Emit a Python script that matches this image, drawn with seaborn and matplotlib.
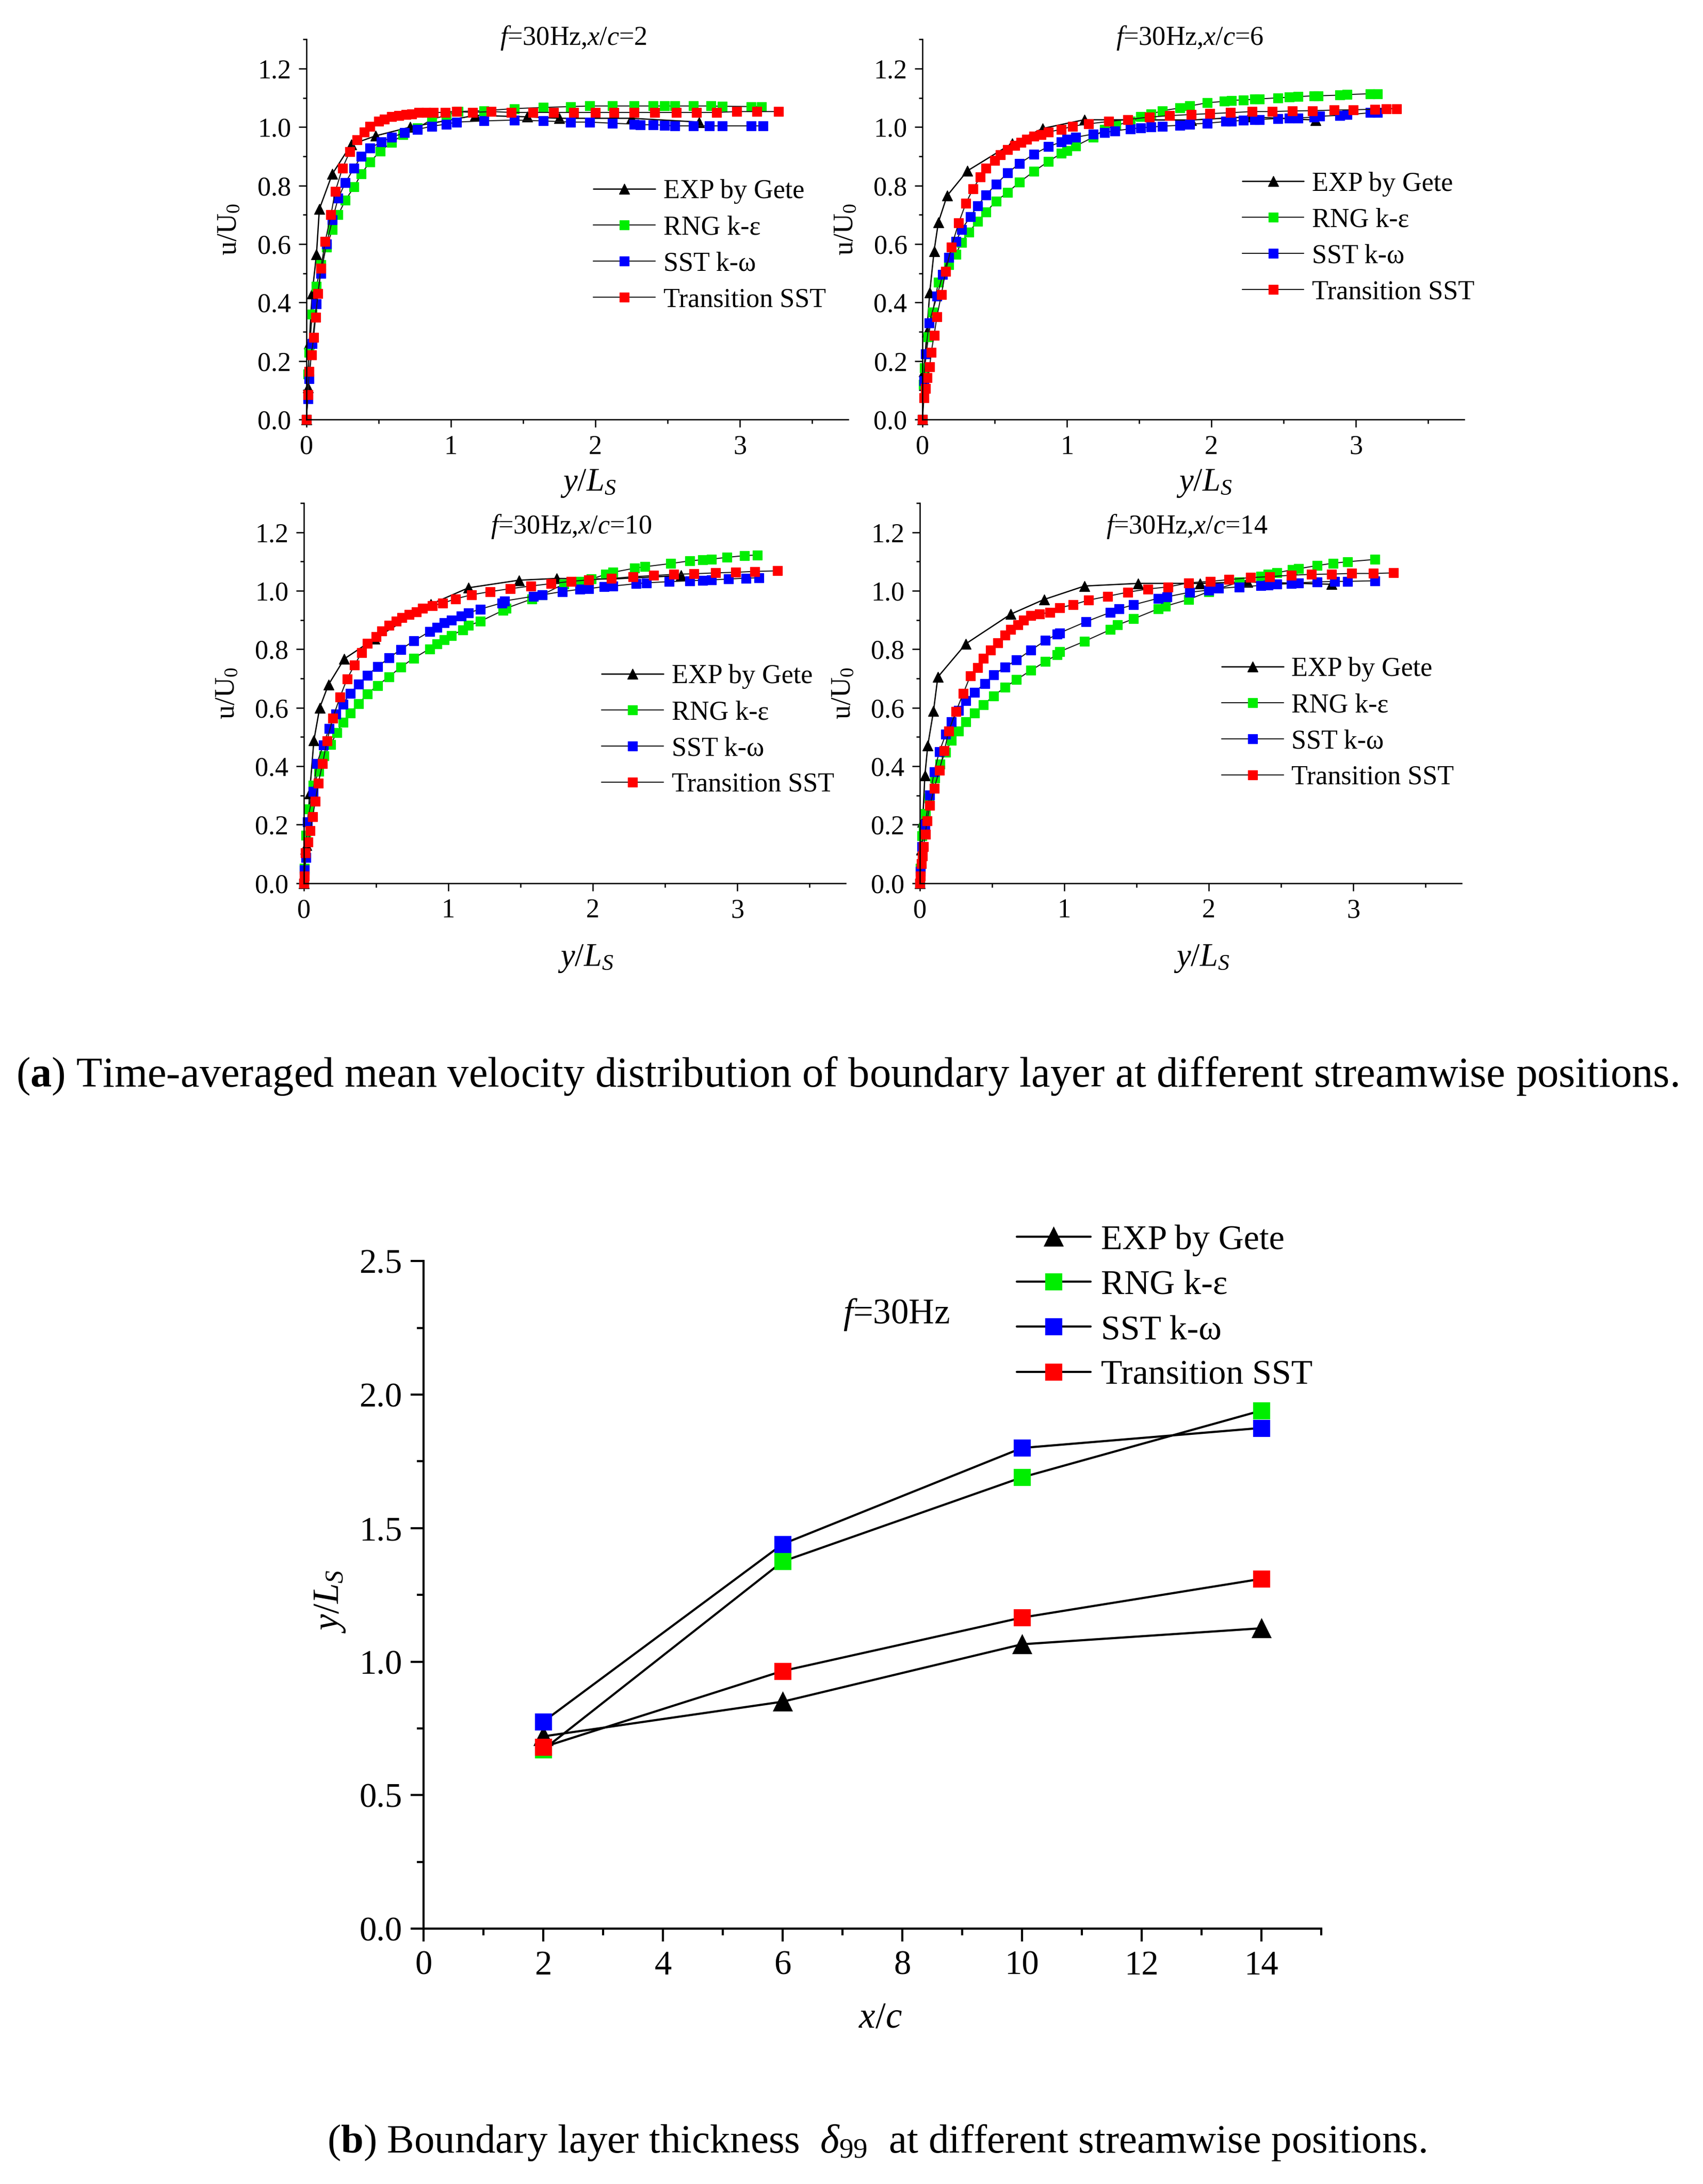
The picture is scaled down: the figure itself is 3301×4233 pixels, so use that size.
import numpy as np
import matplotlib
matplotlib.use('Agg')
import matplotlib.pyplot as plt
import seaborn as sns
from matplotlib.ticker import MultipleLocator, FormatStrFormatter

sns.set_style('ticks', {'axes.edgecolor': 'black', 'xtick.color': 'black', 'ytick.color': 'black',
                        'text.color': 'black', 'axes.labelcolor': 'black'})
plt.rcParams['font.family'] = ['Liberation Serif', 'DejaVu Serif']
plt.rcParams['mathtext.fontset'] = 'custom'
plt.rcParams['mathtext.rm'] = 'Liberation Serif'
plt.rcParams['mathtext.it'] = 'Liberation Serif:italic'
plt.rcParams['mathtext.bf'] = 'Liberation Serif:bold'

labels = ['EXP by Gete', 'RNG k-ε', 'SST k-ω', 'Transition SST']

# x/c = 2
exp2_y = [0, 0.01, 0.02, 0.04, 0.07, 0.09, 0.18, 0.31, 0.48, 0.72, 1.17, 1.53, 1.75, 2.25, 2.72]
exp2_u = [0, 0.11, 0.26, 0.43, 0.565, 0.72, 0.84, 0.94, 0.97, 1.0, 1.04, 1.035, 1.03, 1.03, 1.017]
rng2_y = [0, 0.01, 0.02, 0.04, 0.07, 0.10, 0.14, 0.18, 0.22, 0.27, 0.33, 0.38, 0.44, 0.51, 0.59, 0.67, 0.77, 0.87,
          0.97, 1.05, 1.23, 1.44, 1.64, 1.83, 1.96, 2.12, 2.27, 2.40, 2.48, 2.55, 2.68, 2.80, 2.88, 3.08, 3.15]
rng2_u = [0, 0.155, 0.23, 0.36, 0.455, 0.53, 0.59, 0.65, 0.70, 0.75, 0.795, 0.84, 0.88, 0.917, 0.947, 0.974, 0.997,
          1.027, 1.04, 1.053, 1.056, 1.063, 1.067, 1.07, 1.072, 1.072, 1.072, 1.072, 1.072, 1.072, 1.072, 1.072,
          1.071, 1.07, 1.07]
sst2_y = [0, 0.01, 0.02, 0.04, 0.07, 0.10, 0.14, 0.18, 0.22, 0.27, 0.33, 0.38, 0.44, 0.52, 0.59, 0.68, 0.77, 0.87,
          0.97, 1.04, 1.23, 1.44, 1.64, 1.83, 1.96, 2.12, 2.27, 2.31, 2.40, 2.48, 2.55, 2.68, 2.79, 2.88, 3.08, 3.16]
sst2_u = [0, 0.07, 0.14, 0.26, 0.395, 0.50, 0.60, 0.683, 0.757, 0.81, 0.86, 0.90, 0.928, 0.949, 0.965, 0.981, 0.992,
          1.003, 1.01, 1.017, 1.021, 1.024, 1.021, 1.017, 1.017, 1.013, 1.01, 1.008, 1.008, 1.006, 1.004, 1.004,
          1.004, 1.004, 1.004, 1.004]
tr2_y = [0, 0.01, 0.02, 0.035, 0.05, 0.064, 0.08, 0.10, 0.13, 0.17, 0.20, 0.25, 0.30, 0.35, 0.40, 0.44, 0.50, 0.54,
         0.59, 0.64, 0.69, 0.73, 0.78, 0.83, 0.88, 0.96, 1.04, 1.15, 1.28, 1.42, 1.57, 1.71, 1.85, 2.0, 2.13, 2.27,
         2.41, 2.56, 2.70, 2.84, 2.98, 3.12, 3.27]
tr2_u = [0, 0.085, 0.165, 0.22, 0.28, 0.35, 0.43, 0.517, 0.608, 0.70, 0.78, 0.86, 0.915, 0.957, 0.983, 1.003, 1.019,
         1.027, 1.035, 1.04, 1.043, 1.045, 1.049, 1.05, 1.05, 1.05, 1.053, 1.05, 1.053, 1.05, 1.05, 1.05, 1.05, 1.05,
         1.05, 1.05, 1.05, 1.05, 1.05, 1.05, 1.053, 1.053, 1.053]

# x/c = 6
exp6_y = [0, 0.01, 0.03, 0.05, 0.08, 0.11, 0.17, 0.31, 0.62, 0.83, 1.12, 1.86, 2.26, 2.72]
exp6_u = [0, 0.165, 0.30, 0.434, 0.576, 0.675, 0.765, 0.85, 0.944, 0.995, 1.025, 1.024, 1.035, 1.024]
rng6_y = [0, 0.005, 0.015, 0.04, 0.07, 0.11, 0.18, 0.23, 0.27, 0.32, 0.38, 0.44, 0.51, 0.59, 0.67, 0.77, 0.87, 0.96,
          1.0, 1.06, 1.18, 1.26, 1.34, 1.44, 1.51, 1.58, 1.66, 1.78, 1.85, 1.97, 2.09, 2.14, 2.22, 2.30, 2.33, 2.46,
          2.54, 2.60, 2.71, 2.74, 2.89, 2.94, 3.10, 3.15]
rng6_u = [0, 0.12, 0.176, 0.283, 0.368, 0.47, 0.53, 0.565, 0.605, 0.64, 0.677, 0.71, 0.747, 0.777, 0.811, 0.848,
          0.882, 0.91, 0.92, 0.935, 0.965, 0.992, 1.006, 1.019, 1.035, 1.044, 1.056, 1.065, 1.072, 1.083, 1.088,
          1.091, 1.093, 1.095, 1.096, 1.10, 1.102, 1.104, 1.107, 1.107, 1.109, 1.111, 1.114, 1.114]
sst6_y = [0, 0.01, 0.02, 0.045, 0.10, 0.14, 0.18, 0.23, 0.27, 0.33, 0.38, 0.44, 0.51, 0.59, 0.67, 0.77, 0.87, 0.96,
          1.0, 1.06, 1.18, 1.26, 1.33, 1.44, 1.51, 1.58, 1.66, 1.78, 1.85, 1.97, 2.10, 2.14, 2.22, 2.30, 2.33, 2.46,
          2.54, 2.60, 2.71, 2.75, 2.89, 2.94, 3.10, 3.15]
sst6_u = [0, 0.133, 0.224, 0.33, 0.421, 0.496, 0.555, 0.608, 0.649, 0.693, 0.73, 0.768, 0.805, 0.843, 0.875, 0.907,
          0.933, 0.949, 0.958, 0.965, 0.976, 0.981, 0.987, 0.994, 0.997, 1.0, 1.003, 1.006, 1.01, 1.013, 1.019, 1.02,
          1.023, 1.025, 1.026, 1.029, 1.031, 1.031, 1.034, 1.037, 1.04, 1.042, 1.049, 1.049]
tr6_y = [0, 0.01, 0.02, 0.03, 0.05, 0.06, 0.08, 0.10, 0.13, 0.16, 0.20, 0.25, 0.30, 0.35, 0.40, 0.44, 0.50, 0.54,
         0.59, 0.64, 0.68, 0.72, 0.77, 0.82, 0.87, 0.96, 1.04, 1.15, 1.29, 1.42, 1.57, 1.71, 1.86, 1.99, 2.13, 2.28,
         2.42, 2.56, 2.70, 2.85, 2.98, 3.13, 3.21, 3.28]
tr6_u = [0, 0.075, 0.107, 0.144, 0.181, 0.229, 0.288, 0.352, 0.427, 0.507, 0.59, 0.672, 0.739, 0.789, 0.829, 0.859,
         0.885, 0.905, 0.923, 0.937, 0.948, 0.959, 0.968, 0.974, 0.983, 0.992, 1.003, 1.011, 1.019, 1.026, 1.034,
         1.039, 1.043, 1.046, 1.049, 1.053, 1.053, 1.055, 1.056, 1.058, 1.059, 1.061, 1.063, 1.063]

# x/c = 10
exp10_y = [0, 0.02, 0.04, 0.07, 0.11, 0.17, 0.28, 0.49, 0.88, 1.14, 1.49, 1.75, 2.13, 2.61]
exp10_u = [0, 0.13, 0.307, 0.489, 0.60, 0.678, 0.767, 0.836, 0.954, 1.01, 1.036, 1.042, 1.04, 1.052]
rng10_y = [0, 0.005, 0.013, 0.035, 0.065, 0.105, 0.14, 0.185, 0.23, 0.27, 0.32, 0.38, 0.44, 0.51, 0.59, 0.67, 0.76,
           0.87, 0.92, 0.97, 1.02, 1.10, 1.14, 1.22, 1.38, 1.40, 1.58, 1.65, 1.80, 1.91, 1.99, 2.09, 2.14, 2.29, 2.36,
           2.54, 2.67, 2.76, 2.82, 2.93, 3.05, 3.14]
rng10_u = [0, 0.05, 0.163, 0.253, 0.334, 0.382, 0.435, 0.475, 0.515, 0.55, 0.582, 0.614, 0.647, 0.676, 0.706, 0.738,
           0.769, 0.801, 0.818, 0.833, 0.847, 0.866, 0.881, 0.895, 0.933, 0.94, 0.972, 0.986, 1.023, 1.031, 1.04,
           1.056, 1.063, 1.077, 1.082, 1.093, 1.102, 1.106, 1.108, 1.114, 1.12, 1.122]
sst10_y = [0, 0.005, 0.013, 0.025, 0.065, 0.09, 0.135, 0.175, 0.22, 0.27, 0.32, 0.38, 0.44, 0.51, 0.59, 0.67, 0.76,
           0.87, 0.92, 0.97, 1.02, 1.09, 1.14, 1.22, 1.37, 1.39, 1.59, 1.65, 1.79, 1.91, 1.97, 2.08, 2.14, 2.30, 2.37,
           2.53, 2.67, 2.76, 2.82, 2.94, 3.06, 3.15]
sst10_u = [0, 0.045, 0.088, 0.21, 0.314, 0.409, 0.473, 0.529, 0.578, 0.612, 0.649, 0.681, 0.711, 0.74, 0.77, 0.799,
           0.828, 0.86, 0.875, 0.89, 0.90, 0.913, 0.924, 0.937, 0.958, 0.965, 0.981, 0.986, 0.997, 1.005, 1.007,
           1.014, 1.016, 1.024, 1.027, 1.031, 1.034, 1.036, 1.037, 1.04, 1.043, 1.044]
tr10_y = [0, 0.005, 0.012, 0.03, 0.045, 0.06, 0.08, 0.10, 0.13, 0.16, 0.20, 0.25, 0.30, 0.35, 0.40, 0.44, 0.50, 0.54,
          0.59, 0.64, 0.68, 0.73, 0.78, 0.82, 0.89, 0.96, 1.05, 1.16, 1.29, 1.43, 1.57, 1.71, 1.85, 1.97, 2.13, 2.28,
          2.42, 2.56, 2.70, 2.85, 2.99, 3.12, 3.28]
tr10_u = [0, 0.024, 0.104, 0.141, 0.179, 0.227, 0.28, 0.342, 0.409, 0.486, 0.564, 0.636, 0.699, 0.745, 0.788, 0.82,
          0.842, 0.863, 0.881, 0.895, 0.908, 0.919, 0.927, 0.94, 0.949, 0.957, 0.972, 0.986, 0.997, 1.007, 1.016,
          1.024, 1.032, 1.037, 1.042, 1.048, 1.052, 1.056, 1.058, 1.061, 1.063, 1.066, 1.068]

# x/c = 14
exp14_y = [0, 0.01, 0.02, 0.035, 0.055, 0.095, 0.125, 0.32, 0.63, 0.86, 1.14, 1.51, 1.94, 2.27, 2.85]
exp14_u = [0, 0.114, 0.21, 0.368, 0.47, 0.589, 0.705, 0.819, 0.92, 0.97, 1.016, 1.025, 1.025, 1.03, 1.022]
rng14_y = [0, 0.003, 0.013, 0.025, 0.04, 0.065, 0.105, 0.14, 0.18, 0.22, 0.27, 0.32, 0.38, 0.44, 0.51, 0.59, 0.67,
           0.77, 0.87, 0.95, 0.97, 1.14, 1.32, 1.37, 1.48, 1.65, 1.70, 1.86, 2.0, 2.21, 2.36, 2.41, 2.47, 2.58, 2.62,
           2.75, 2.86, 2.96, 3.15]
rng14_u = [0, 0.05, 0.162, 0.189, 0.237, 0.29, 0.36, 0.408, 0.448, 0.488, 0.52, 0.552, 0.581, 0.61, 0.64, 0.67,
           0.696, 0.728, 0.758, 0.781, 0.792, 0.827, 0.867, 0.883, 0.904, 0.938, 0.947, 0.97, 0.997, 1.029, 1.05,
           1.057, 1.061, 1.072, 1.075, 1.086, 1.094, 1.099, 1.107]
sst14_y = [0, 0.003, 0.013, 0.035, 0.07, 0.10, 0.135, 0.18, 0.22, 0.27, 0.32, 0.38, 0.45, 0.51, 0.59, 0.67, 0.77,
           0.87, 0.95, 0.97, 1.15, 1.32, 1.38, 1.48, 1.65, 1.71, 1.87, 2.0, 2.07, 2.21, 2.36, 2.41, 2.47, 2.57, 2.62,
           2.75, 2.87, 2.96, 3.15]
sst14_u = [0, 0.04, 0.125, 0.2, 0.301, 0.381, 0.45, 0.509, 0.552, 0.591, 0.624, 0.653, 0.683, 0.712, 0.739, 0.763,
           0.797, 0.83, 0.851, 0.856, 0.894, 0.926, 0.938, 0.952, 0.974, 0.979, 0.995, 1.002, 1.008, 1.013, 1.018,
           1.019, 1.022, 1.024, 1.027, 1.03, 1.032, 1.032, 1.034]
tr14_y = [0, 0.003, 0.01, 0.02, 0.026, 0.038, 0.05, 0.07, 0.10, 0.135, 0.17, 0.20, 0.25, 0.30, 0.35, 0.40, 0.44,
          0.49, 0.54, 0.59, 0.63, 0.68, 0.72, 0.77, 0.83, 0.90, 0.97, 1.06, 1.17, 1.30, 1.44, 1.58, 1.72, 1.86, 2.01,
          2.14, 2.29, 2.42, 2.57, 2.71, 2.85, 2.99, 3.14, 3.28]
tr14_u = [0, 0.024, 0.066, 0.093, 0.125, 0.168, 0.214, 0.266, 0.325, 0.386, 0.453, 0.52, 0.587, 0.648, 0.709, 0.737,
          0.769, 0.797, 0.822, 0.848, 0.867, 0.883, 0.899, 0.915, 0.92, 0.926, 0.942, 0.952, 0.968, 0.981, 0.995,
          1.006, 1.013, 1.027, 1.032, 1.038, 1.045, 1.048, 1.053, 1.056, 1.057, 1.059, 1.059, 1.061]

# boundary layer thickness delta99 (panel b)
xc = [2, 6, 10, 14]
d_exp = [0.72, 0.85, 1.065, 1.125]
d_rng = [0.67, 1.375, 1.69, 1.94]
d_sst = [0.775, 1.44, 1.80, 1.875]
d_tr = [0.68, 0.965, 1.165, 1.31]

GREEN = '#00ee00'
BLUE = '#0000ff'
RED = '#ff0000'
SERIF = 'Liberation Serif'

fig = plt.figure(figsize=(3301 / 300, 4233 / 300), dpi=300)


def serif_ticks(ax):
    for lbl in ax.get_xticklabels() + ax.get_yticklabels():
        lbl.set_fontfamily(SERIF)


def profile(ax, station, title_y, exp, rng, sst, tr, leg_xy, xlab_y):
    sns.lineplot(x=exp[0], y=exp[1], ax=ax, sort=False, estimator=None, color='black', lw=0.6,
                 marker='^', markersize=5, markerfacecolor='black', markeredgecolor='black',
                 markeredgewidth=0.3, clip_on=False)
    for (ys, us), c in [(rng, GREEN), (sst, BLUE), (tr, RED)]:
        sns.lineplot(x=ys, y=us, ax=ax, sort=False, estimator=None, color='#1a1a1a', lw=0.5,
                     marker='s', markersize=4.1, markerfacecolor=c, markeredgecolor=c,
                     markeredgewidth=0.3, clip_on=False)
    ax.set_xlim(0, 3.75)
    ax.set_ylim(0, 1.3)
    ax.set_xticks([0, 1, 2, 3])
    ax.xaxis.set_minor_locator(MultipleLocator(0.5))
    ax.set_yticks(np.arange(0, 1.21, 0.2))
    ax.yaxis.set_minor_locator(MultipleLocator(0.1))
    ax.yaxis.set_major_formatter(FormatStrFormatter('%.1f'))
    ax.tick_params(which='major', direction='out', length=3.6, width=0.6, labelsize=12.5, pad=3.5)
    ax.tick_params(which='minor', direction='out', length=1.8, width=0.6)
    serif_ticks(ax)
    sns.despine(ax=ax)
    for s in ax.spines.values():
        s.set_linewidth(0.6)
    ax.text(1.85, title_y, '$f$=30Hz,$x$/$c$=' + station, ha='center', va='center', fontsize=12.5)
    ax.set_xlabel('$y/L_S$', fontsize=15)
    ax.set_ylabel(r'$\mathrm{u/U_0}$', fontsize=13)
    ax.xaxis.set_label_coords(0.52, xlab_y)
    ax.xaxis.label.set_va('center')
    ax.yaxis.set_label_coords(-0.142, 0.5)
    ax.yaxis.label.set_va('center')
    ax.legend(ax.get_lines()[:4], labels, loc='upper left', bbox_to_anchor=leg_xy, frameon=False,
              fontsize=12.5, handlelength=2.3, handletextpad=0.3, labelspacing=0.42,
              borderpad=0, borderaxespad=0)


ax1 = fig.add_axes([0.1799, 0.8079, 0.3181, 0.1741])
profile(ax1, '2', 1.305, (exp2_y, exp2_u), (rng2_y, rng2_u), (sst2_y, sst2_u), (tr2_y, tr2_u),
        (0.53, 0.632), -0.168)
ax2 = fig.add_axes([0.5417, 0.8079, 0.3181, 0.1741])
profile(ax2, '6', 1.305, (exp6_y, exp6_u), (rng6_y, rng6_u), (sst6_y, sst6_u), (tr6_y, tr6_u),
        (0.59, 0.652), -0.168)
ax3 = fig.add_axes([0.1784, 0.5956, 0.3181, 0.1741])
profile(ax3, '10', 1.22, (exp10_y, exp10_u), (rng10_y, rng10_u), (sst10_y, sst10_u), (tr10_y, tr10_u),
        (0.55, 0.576), -0.198)
ax4 = fig.add_axes([0.5401, 0.5956, 0.3181, 0.1741])
profile(ax4, '14', 1.22, (exp14_y, exp14_u), (rng14_y, rng14_u), (sst14_y, sst14_u), (tr14_y, tr14_u),
        (0.557, 0.595), -0.198)

# panel b
ax5 = fig.add_axes([0.2487, 0.1169, 0.5271, 0.3057])
sns.lineplot(x=xc, y=d_exp, ax=ax5, sort=False, estimator=None, color='black', lw=1.0, marker='^',
             markersize=8, markerfacecolor='black', markeredgecolor='black', clip_on=False)
for vals, c in [(d_rng, GREEN), (d_sst, BLUE), (d_tr, RED)]:
    sns.lineplot(x=xc, y=vals, ax=ax5, sort=False, estimator=None, color='black', lw=1.0, marker='s',
                 markersize=7, markerfacecolor=c, markeredgecolor=c, clip_on=False)
ax5.set_xlim(0, 15)
ax5.set_ylim(0, 2.5)
ax5.set_xticks(np.arange(0, 15, 2))
ax5.xaxis.set_minor_locator(MultipleLocator(1))
ax5.set_yticks(np.arange(0, 2.51, 0.5))
ax5.yaxis.set_minor_locator(MultipleLocator(0.25))
ax5.yaxis.set_major_formatter(FormatStrFormatter('%.1f'))
ax5.tick_params(which='major', direction='out', length=6, width=1.0, labelsize=16, pad=4)
ax5.tick_params(which='minor', direction='out', length=3.2, width=1.0)
serif_ticks(ax5)
sns.despine(ax=ax5)
for s in ax5.spines.values():
    s.set_linewidth(1.0)
ax5.text(7.9, 2.30, '$f$=30Hz', ha='center', va='center', fontsize=16.5)
ax5.set_xlabel('$x/c$', fontsize=17)
ax5.set_ylabel('$y/L_S$', fontsize=17)
ax5.xaxis.set_label_coords(0.509, -0.134)
ax5.xaxis.label.set_va('center')
ax5.yaxis.set_label_coords(-0.104, 0.49)
ax5.yaxis.label.set_va('center')
ax5.legend(ax5.get_lines()[:4], labels, loc='upper left', bbox_to_anchor=(0.661, 1.055), frameon=False,
           fontsize=16.3, handlelength=2.1, handletextpad=0.3, labelspacing=0.38,
           borderpad=0, borderaxespad=0)

fig.text(0.4975, 0.5074, r'($\mathbf{a}$) Time-averaged mean velocity distribution of boundary layer at '
         'different streamwise positions.', ha='center', va='center', fontsize=19.8)
fig.text(0.5147, 0.0191, r'($\mathbf{b}$) Boundary layer thickness  $\delta_{99}$  at different streamwise '
         'positions.', ha='center', va='center', fontsize=18.9)

fig.savefig('out.png', dpi=300)
